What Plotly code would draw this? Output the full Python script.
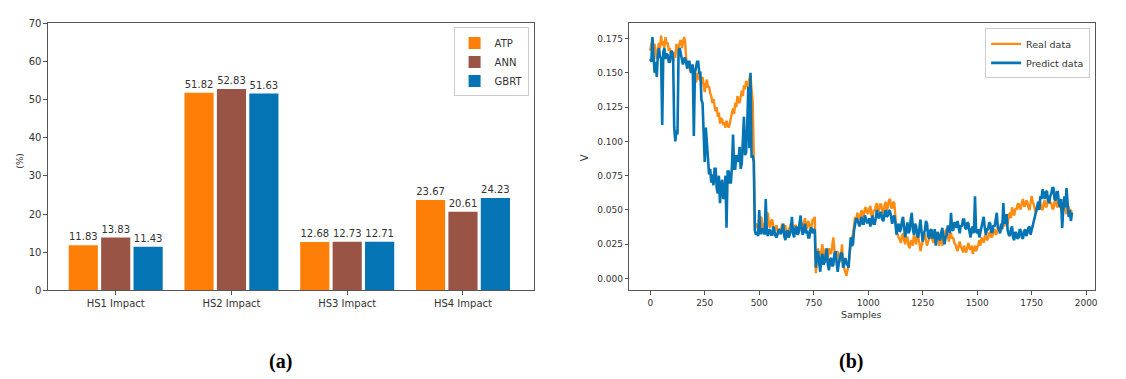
import plotly.graph_objects as go

# ---- (a) impact of each hidden state, per model ----
impact_cats = ["HS1 Impact", "HS2 Impact", "HS3 Impact", "HS4 Impact"]
atp_vals = [11.83, 51.82, 12.68, 23.67]
ann_vals = [13.83, 52.83, 12.73, 20.61]
gbrt_vals = [11.43, 51.63, 12.71, 24.23]

# ---- (b) real vs predicted voltage, every 5th sample ----
sample_step = 5
real_data = [
    0.166, 0.172, 0.175, 0.168, 0.171, 0.165, 0.160, 0.167, 0.172, 0.168, 0.177, 0.170, 0.173, 0.168, 0.176, 0.171, 0.172, 0.166, 0.168, 0.163,
    0.160, 0.158, 0.165, 0.161, 0.171, 0.166, 0.169, 0.172, 0.174, 0.168, 0.171, 0.176, 0.173, 0.160, 0.156, 0.158, 0.154, 0.150, 0.153, 0.156,
    0.148, 0.152, 0.143, 0.147, 0.150, 0.145, 0.146, 0.142, 0.147, 0.141, 0.136, 0.142, 0.145, 0.139, 0.140, 0.135, 0.133, 0.128, 0.131, 0.126,
    0.122, 0.125, 0.118, 0.121, 0.113, 0.117, 0.116, 0.112, 0.114, 0.110, 0.115, 0.112, 0.110, 0.113, 0.118, 0.121, 0.124, 0.120, 0.128, 0.125,
    0.133, 0.129, 0.128, 0.134, 0.137, 0.133, 0.141, 0.138, 0.144, 0.140, 0.142, 0.146, 0.148, 0.138, 0.130, 0.090, 0.036, 0.039, 0.040, 0.037,
    0.038, 0.044, 0.045, 0.036, 0.036, 0.040, 0.041, 0.047, 0.048, 0.039, 0.037, 0.042, 0.043, 0.038, 0.035, 0.037, 0.039, 0.034, 0.034, 0.036,
    0.036, 0.040, 0.033, 0.035, 0.039, 0.031, 0.030, 0.036, 0.037, 0.040, 0.041, 0.036, 0.035, 0.039, 0.038, 0.033, 0.034, 0.040, 0.042, 0.037,
    0.037, 0.041, 0.044, 0.038, 0.036, 0.042, 0.040, 0.037, 0.038, 0.043, 0.043, 0.045, 0.004, 0.012, 0.022, 0.018, 0.014, 0.020, 0.025, 0.016,
    0.017, 0.022, 0.012, 0.015, 0.022, 0.019, 0.018, 0.024, 0.030, 0.021, 0.015, 0.019, 0.020, 0.014, 0.012, 0.017, 0.025, 0.010, 0.008, 0.005,
    0.002, 0.006, 0.010, 0.018, 0.025, 0.030, 0.032, 0.040, 0.045, 0.042, 0.048, 0.044, 0.043, 0.047, 0.050, 0.045, 0.046, 0.051, 0.052, 0.048,
    0.047, 0.051, 0.053, 0.046, 0.044, 0.050, 0.049, 0.053, 0.055, 0.049, 0.050, 0.054, 0.054, 0.049, 0.048, 0.053, 0.056, 0.050, 0.052, 0.057,
    0.058, 0.052, 0.051, 0.056, 0.055, 0.045, 0.035, 0.032, 0.030, 0.027, 0.026, 0.031, 0.033, 0.028, 0.025, 0.030, 0.030, 0.024, 0.022, 0.027,
    0.028, 0.024, 0.032, 0.029, 0.025, 0.031, 0.030, 0.026, 0.020, 0.024, 0.027, 0.032, 0.033, 0.028, 0.024, 0.027, 0.029, 0.034, 0.032, 0.028,
    0.026, 0.030, 0.034, 0.029, 0.028, 0.024, 0.030, 0.033, 0.024, 0.028, 0.031, 0.035, 0.036, 0.030, 0.027, 0.032, 0.033, 0.029, 0.030, 0.026,
    0.025, 0.022, 0.020, 0.024, 0.027, 0.023, 0.022, 0.019, 0.024, 0.021, 0.019, 0.023, 0.026, 0.022, 0.021, 0.024, 0.018, 0.022, 0.024, 0.020,
    0.022, 0.025, 0.028, 0.024, 0.030, 0.027, 0.026, 0.031, 0.032, 0.028, 0.029, 0.033, 0.034, 0.030, 0.031, 0.035, 0.036, 0.032, 0.033, 0.037,
    0.038, 0.034, 0.035, 0.040, 0.042, 0.038, 0.045, 0.041, 0.040, 0.046, 0.048, 0.044, 0.052, 0.048, 0.046, 0.051, 0.050, 0.054, 0.055, 0.051,
    0.051, 0.055, 0.058, 0.053, 0.053, 0.057, 0.056, 0.052, 0.050, 0.055, 0.060, 0.056, 0.054, 0.050, 0.048, 0.053, 0.052, 0.056, 0.055, 0.051,
    0.050, 0.055, 0.057, 0.052, 0.053, 0.058, 0.060, 0.055, 0.055, 0.051, 0.051, 0.056, 0.058, 0.053, 0.052, 0.057, 0.056, 0.050, 0.049, 0.053,
    0.054, 0.050, 0.047, 0.052, 0.052, 0.049, 0.050, 0.047,
]
predict_data = [
    0.160, 0.158, 0.176, 0.165, 0.150, 0.158, 0.147, 0.163, 0.168, 0.162, 0.160, 0.112, 0.165, 0.168, 0.160, 0.164, 0.163, 0.158, 0.158, 0.165,
    0.166, 0.160, 0.110, 0.100, 0.108, 0.105, 0.166, 0.168, 0.162, 0.160, 0.156, 0.160, 0.161, 0.155, 0.153, 0.158, 0.158, 0.152, 0.150, 0.156,
    0.104, 0.150, 0.155, 0.158, 0.158, 0.150, 0.150, 0.130, 0.128, 0.105, 0.085, 0.110, 0.098, 0.082, 0.076, 0.080, 0.070, 0.076, 0.068, 0.080,
    0.080, 0.066, 0.062, 0.075, 0.055, 0.068, 0.072, 0.058, 0.060, 0.075, 0.037, 0.078, 0.078, 0.070, 0.070, 0.082, 0.105, 0.080, 0.080, 0.090,
    0.088, 0.085, 0.096, 0.080, 0.084, 0.100, 0.118, 0.090, 0.092, 0.112, 0.140, 0.095, 0.150, 0.088, 0.090, 0.085, 0.035, 0.032, 0.034, 0.031,
    0.050, 0.033, 0.033, 0.036, 0.036, 0.032, 0.058, 0.034, 0.031, 0.036, 0.035, 0.032, 0.032, 0.038, 0.034, 0.031, 0.030, 0.034, 0.036, 0.033,
    0.033, 0.036, 0.040, 0.031, 0.028, 0.034, 0.035, 0.030, 0.032, 0.036, 0.045, 0.033, 0.030, 0.036, 0.038, 0.032, 0.033, 0.040, 0.046, 0.035,
    0.032, 0.036, 0.040, 0.033, 0.035, 0.030, 0.030, 0.036, 0.037, 0.033, 0.036, 0.035, 0.008, 0.018, 0.020, 0.012, 0.005, 0.015, 0.018, 0.010,
    0.012, 0.017, 0.022, 0.010, 0.006, 0.014, 0.015, 0.009, 0.010, 0.018, 0.020, 0.012, 0.005, 0.011, 0.014, 0.019, 0.018, 0.008, 0.010, 0.015,
    0.012, 0.009, 0.008, 0.020, 0.030, 0.024, 0.025, 0.035, 0.040, 0.044, 0.043, 0.040, 0.038, 0.042, 0.045, 0.040, 0.040, 0.046, 0.044, 0.041,
    0.041, 0.044, 0.038, 0.042, 0.046, 0.040, 0.040, 0.044, 0.050, 0.045, 0.044, 0.048, 0.048, 0.043, 0.042, 0.047, 0.050, 0.045, 0.046, 0.050,
    0.049, 0.045, 0.040, 0.045, 0.046, 0.040, 0.032, 0.038, 0.040, 0.034, 0.036, 0.042, 0.045, 0.037, 0.030, 0.036, 0.041, 0.033, 0.035, 0.043,
    0.048, 0.036, 0.032, 0.040, 0.038, 0.031, 0.030, 0.037, 0.043, 0.034, 0.027, 0.033, 0.035, 0.042, 0.040, 0.031, 0.029, 0.035, 0.036, 0.030,
    0.030, 0.036, 0.024, 0.031, 0.034, 0.029, 0.028, 0.033, 0.037, 0.030, 0.025, 0.030, 0.032, 0.038, 0.038, 0.033, 0.048, 0.036, 0.035, 0.041,
    0.040, 0.037, 0.042, 0.038, 0.033, 0.039, 0.038, 0.043, 0.043, 0.037, 0.036, 0.041, 0.040, 0.034, 0.030, 0.036, 0.038, 0.033, 0.060, 0.035,
    0.033, 0.036, 0.030, 0.034, 0.038, 0.043, 0.045, 0.037, 0.032, 0.036, 0.036, 0.041, 0.040, 0.034, 0.034, 0.039, 0.038, 0.043, 0.048, 0.037,
    0.036, 0.033, 0.040, 0.036, 0.055, 0.040, 0.042, 0.047, 0.035, 0.032, 0.031, 0.036, 0.038, 0.030, 0.028, 0.034, 0.033, 0.029, 0.030, 0.036,
    0.035, 0.030, 0.029, 0.034, 0.036, 0.031, 0.033, 0.037, 0.038, 0.032, 0.035, 0.040, 0.042, 0.045, 0.048, 0.052, 0.056, 0.050, 0.060, 0.058,
    0.065, 0.060, 0.058, 0.063, 0.064, 0.057, 0.055, 0.060, 0.062, 0.066, 0.066, 0.058, 0.057, 0.063, 0.063, 0.055, 0.052, 0.058, 0.037, 0.050,
    0.060, 0.052, 0.066, 0.055, 0.045, 0.050, 0.042, 0.048,
]
samples = [i * sample_step for i in range(len(real_data))]

C_ORANGE = "#fd7f07"
C_BROWN = "#9a5446"
C_BLUE = "#0474b4"
AXIS_COL = "#555555"
TXT = "#333333"
FONT = "DejaVu Sans"

fig = go.Figure()

for name, vals, col in [("ATP", atp_vals, C_ORANGE), ("ANN", ann_vals, C_BROWN), ("GBRT", gbrt_vals, C_BLUE)]:
    fig.add_trace(go.Bar(
        x=impact_cats, y=vals, name=name, marker=dict(color=col, line=dict(width=0)),
        text=[f"{v:.2f}" for v in vals], textposition="outside", cliponaxis=False,
        textfont=dict(size=10, color=TXT, family=FONT),
        xaxis="x", yaxis="y", legend="legend",
    ))

fig.add_trace(go.Scatter(
    x=samples, y=real_data, mode="lines", name="Real data",
    line=dict(color="#ff8c12", width=2.4), xaxis="x2", yaxis="y2", legend="legend2",
))
fig.add_trace(go.Scatter(
    x=samples, y=predict_data, mode="lines", name="Predict data",
    line=dict(color=C_BLUE, width=2.6), xaxis="x2", yaxis="y2", legend="legend2",
))

W, H = 1126, 379
y_dom = [(H - 293) / H, (H - 19) / H]
axis_common = dict(showline=True, linecolor=AXIS_COL, linewidth=1, mirror=True,
                   ticks="outside", ticklen=3.5, tickcolor=AXIS_COL, showgrid=False,
                   zeroline=False)

fig.update_layout(
    width=W, height=H, margin=dict(l=0, r=0, t=0, b=0),
    paper_bgcolor="white", plot_bgcolor="white",
    font=dict(family=FONT, color=TXT, size=10),
    barmode="group", bargap=0.16, bargroupgap=0.1,
    xaxis=dict(domain=[48 / W, 535 / W], range=[-0.586, 3.61], anchor="y",
               tickfont=dict(size=10, color=TXT), **axis_common),
    yaxis=dict(domain=y_dom, range=[0, 70], dtick=10, anchor="x",
               tickfont=dict(size=10, color=TXT), **axis_common),
    xaxis2=dict(domain=[631 / W, 1098 / W], range=[-96, 2041], dtick=250, anchor="y2",
                tickfont=dict(size=9, color=TXT), **axis_common),
    yaxis2=dict(domain=y_dom, range=[-0.0085, 0.1859], dtick=0.025, tickformat=".3f",
                anchor="x2", tickfont=dict(size=9, color=TXT), **axis_common),
    legend=dict(x=530 / W, y=(H - 23) / H, xanchor="right", yanchor="top",
                bordercolor="#cccccc", borderwidth=1, bgcolor="rgba(255,255,255,0.9)",
                font=dict(size=10, color=TXT), tracegroupgap=0, itemwidth=30),
    legend2=dict(x=1093 / W, y=(H - 24) / H, xanchor="right", yanchor="top",
                 bordercolor="#cccccc", borderwidth=1, bgcolor="rgba(255,255,255,0.9)",
                 font=dict(size=9.5, color=TXT), tracegroupgap=0, itemwidth=30),
    showlegend=True,
)

annotations = [
    dict(text="(%)", x=20 / W, y=(H - 160) / H, textangle=-90, font=dict(size=9, color=TXT)),
    dict(text="V", x=586 / W, y=(H - 157) / H, textangle=-90, font=dict(size=10, color=TXT)),
    dict(text="Samples", x=864 / W, y=(H - 318) / H, font=dict(size=9.5, color=TXT)),
    dict(text="<b>(a)</b>", x=281 / W, y=(H - 366) / H,
         font=dict(size=20, color="black", family="Liberation Serif")),
    dict(text="<b>(b)</b>", x=853 / W, y=(H - 366) / H,
         font=dict(size=20, color="black", family="Liberation Serif")),
]
for a in annotations:
    a.update(xref="paper", yref="paper", showarrow=False, xanchor="center", yanchor="middle")
fig.update_layout(annotations=annotations)

fig.write_html("out.html")
